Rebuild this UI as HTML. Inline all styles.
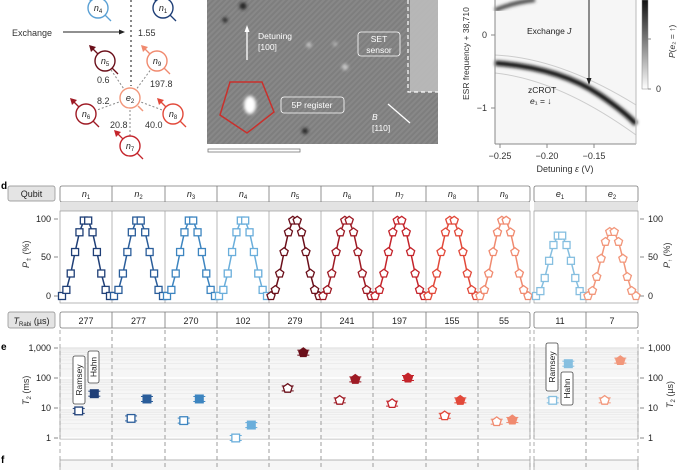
<!DOCTYPE html>
<html><head><meta charset="utf-8"><style>
body{margin:0;background:#fff;}
svg{display:block;font-family:"Liberation Sans",sans-serif;}
</style></head><body>
<svg id="s" width="685" height="470" viewBox="0 0 685 470" xmlns="http://www.w3.org/2000/svg">
<defs>
<pattern id="stripe" width="4" height="4" patternUnits="userSpaceOnUse" patternTransform="rotate(45)">
<rect width="4" height="4" fill="#7e7e7e"/><rect width="2" height="4" fill="#888"/>
</pattern>
<filter id="bl"><feGaussianBlur stdDeviation="1.5"/></filter>
</defs>
<!-- panel a -->
<line x1="131" y1="0" x2="131" y2="86" stroke="#888" stroke-width="2" stroke-dasharray="2,3"/>
<text x="12" y="36" font-size="9" fill="#333">Exchange</text>
<line x1="63" y1="32" x2="122" y2="32" stroke="#222" stroke-width="1"/>
<polygon points="125,32 119,29.5 119,34.5" fill="#222"/>
<text x="138" y="36" font-size="9" fill="#333">1.55</text>
<g stroke="#888" stroke-dasharray="2,2" stroke-width="1">
<line x1="130" y1="98" x2="105" y2="61"/><line x1="130" y1="98" x2="157" y2="61"/>
<line x1="130" y1="98" x2="86" y2="114"/><line x1="130" y1="98" x2="173" y2="114"/>
<line x1="130" y1="98" x2="130" y2="146"/></g>
<text x="97" y="83" font-size="9" fill="#333">0.6</text>
<text x="150" y="87" font-size="9" fill="#333">197.8</text>
<text x="97" y="104" font-size="9" fill="#333">8.2</text>
<text x="110" y="128" font-size="9" fill="#333">20.8</text>
<text x="145" y="128" font-size="9" fill="#333">40.0</text>
<g id="nodes"></g>
<!-- panel b -->
<rect x="207" y="0" width="231" height="144" fill="url(#stripe)"/>
<rect x="410" y="0" width="28" height="92" fill="#bdbdbd" opacity="0.9"/>
<path d="M408 0 V92 H438" fill="none" stroke="#fff" stroke-dasharray="4,3" stroke-width="1.2"/>
<g filter="url(#bl)" fill="#fff"><ellipse cx="250" cy="105" rx="6" ry="9"/><circle cx="309" cy="45" r="2.5" opacity=".6"/><circle cx="345" cy="67" r="3" opacity=".6"/><circle cx="335" cy="44" r="2" opacity=".5"/></g>
<g filter="url(#bl)" fill="#222"><circle cx="243" cy="6" r="3.5"/><circle cx="225" cy="20" r="2.5"/><circle cx="305" cy="131" r="3"/></g>
<polygon points="230,82 262,82 274,112 247,133 220,115" fill="none" stroke="#c9302c" stroke-width="1.5"/>
<line x1="247" y1="60" x2="247" y2="30" stroke="#fff" stroke-width="1.3"/><polygon points="247,25 244.5,32 249.5,32" fill="#fff"/>
<text x="258" y="39" font-size="8.5" fill="#fff">Detuning</text><text x="258" y="50" font-size="8.5" fill="#fff">[100]</text>
<rect x="358" y="32" width="42" height="24" rx="3" fill="none" stroke="#fff" stroke-width="0.8"/>
<text x="379" y="42" font-size="8.5" fill="#fff" text-anchor="middle">SET</text><text x="379" y="53" font-size="8.5" fill="#fff" text-anchor="middle">sensor</text>
<rect x="281" y="97" width="63" height="16" rx="3" fill="none" stroke="#fff" stroke-width="0.8"/>
<text x="312" y="108" font-size="8.5" fill="#fff" text-anchor="middle">5P register</text>
<line x1="410" y1="123" x2="388" y2="104" stroke="#fff" stroke-width="1.3"/>
<text x="372" y="120" font-size="8.5" fill="#fff" font-style="italic">B</text><text x="372" y="131" font-size="8.5" fill="#fff">[110]</text>
<rect x="208" y="149" width="92" height="3" fill="none" stroke="#777" stroke-width="0.8"/>
<!-- panel c -->
<rect x="495" y="0" width="141" height="144" fill="#f6f6f6"/>
<path d="M495 10 Q515 2 535 0" stroke="#444" stroke-width="4" fill="none" filter="url(#bl)"/>
<path d="M495 63 Q560 68 600 95 Q625 112 636 124" stroke="#111" stroke-width="5" fill="none" filter="url(#bl)"/>
<path d="M495 55 Q560 58 636 105" stroke="#ccc" stroke-width="1" fill="none"/>
<path d="M495 73 Q560 80 636 135" stroke="#ccc" stroke-width="1" fill="none"/>
<line x1="589" y1="0" x2="589" y2="80" stroke="#222"/><polygon points="589,85 586.5,78 591.5,78" fill="#222"/>
<text x="527" y="34" font-size="8.5" fill="#222">Exchange <tspan font-style="italic">J</tspan></text>
<text x="528" y="93" font-size="8.5" fill="#222">zCROT</text><text x="530" y="104" font-size="8.5" fill="#222"><tspan font-style="italic">e</tspan>₁ = ↓</text>
<line x1="495" y1="0" x2="495" y2="144" stroke="#888"/><line x1="495" y1="144" x2="636" y2="144" stroke="#888"/>
<line x1="636" y1="0" x2="636" y2="144" stroke="#bbb"/>
<g stroke="#888"><line x1="491" y1="35" x2="495" y2="35"/><line x1="491" y1="108" x2="495" y2="108"/><line x1="500" y1="144" x2="500" y2="148"/><line x1="547" y1="144" x2="547" y2="148"/><line x1="594" y1="144" x2="594" y2="148"/></g>
<text x="487" y="38" font-size="9" text-anchor="end" fill="#333">0</text><text x="487" y="111" font-size="9" text-anchor="end" fill="#333">−1</text>
<g font-size="9" fill="#333" text-anchor="middle"><text x="500" y="159">−0.25</text><text x="547" y="159">−0.20</text><text x="594" y="159">−0.15</text></g>
<text x="565" y="172" font-size="9" fill="#333" text-anchor="middle">Detuning <tspan font-style="italic">ε</tspan> (V)</text>
<text transform="translate(469,100) rotate(-90)" font-size="8.5" fill="#333">ESR frequency + 38,710</text>
<defs><linearGradient id="cb" x1="0" y1="0" x2="0" y2="1"><stop offset="0" stop-color="#111"/><stop offset="1" stop-color="#fff"/></linearGradient></defs>
<rect x="642" y="0" width="6" height="89" fill="url(#cb)" stroke="#888" stroke-width="0.5"/>
<line x1="648" y1="39" x2="651" y2="39" stroke="#888"/><line x1="648" y1="89" x2="651" y2="89" stroke="#888"/>
<text x="656" y="92" font-size="9" fill="#333">0</text>
<text transform="translate(675,58) rotate(-90)" font-size="8.5" fill="#333"><tspan font-style="italic">P</tspan>(<tspan font-style="italic">e</tspan>₂ = ↑)</text>
<!-- panel d/e -->
<text x="1" y="189" font-size="10" font-weight="bold">d</text>
<text x="1" y="350" font-size="10" font-weight="bold">e</text>
<text x="1" y="463" font-size="10" font-weight="bold">f</text>
<rect x="8" y="186" width="47" height="15" rx="2" fill="#e4e4e4" stroke="#888" stroke-width="0.7"/>
<text x="31.5" y="197" font-size="9" text-anchor="middle" fill="#222">Qubit</text>
<rect x="8" y="312" width="47" height="16" rx="2" fill="#e4e4e4" stroke="#888" stroke-width="0.7"/>
<text x="31.5" y="324" font-size="9" text-anchor="middle" fill="#222"><tspan font-style="italic">T</tspan><tspan font-size="6" dy="2">Rabi</tspan><tspan dy="-2"> (µs)</tspan></text>
<g id="g"></g>
</svg>
<script>
const NS="http://www.w3.org/2000/svg",g=document.getElementById('g'),nd=document.getElementById('nodes');
function el(t,a,p){const e=document.createElementNS(NS,t);for(const k in a)e.setAttribute(k,a[k]);(p||g).appendChild(e);return e;}
function tx(x,y,s,a,p){const e=el('text',Object.assign({x,y,'font-size':9,fill:'#222'},a||{}),p);e.innerHTML=s;return e;}
const nodes=[['n','4',98,8,'#5aa0d4'],['n','1',163,8,'#1f3f77'],['n','5',105,61,'#6b0f1a'],['n','9',157,61,'#f08a6f'],['e','2',130,98,'#f2977b'],['n','6',86,114,'#9e1a24'],['n','8',173,114,'#e2493a'],['n','7',130,146,'#c4242b']];
nodes.forEach(([l,i,x,y,c])=>{
 if(l=='n'){el('line',{x1:x-14,y1:y-14,x2:x+13,y2:y+13,stroke:c,'stroke-width':1.3},nd);el('polygon',{points:`${x-16},${y-16} ${x-9},${y-14} ${x-14},${y-9}`,fill:c},nd);}
 else{el('line',{x1:x+8,y1:y+8,x2:x+13,y2:y+13,stroke:c,'stroke-width':1.5},nd);}
 el('circle',{cx:x,cy:y,r:l=='n'?10:10,fill:'#fff',stroke:c,'stroke-width':1.4},nd);
 tx(x,y+3,`<tspan font-style="italic">${l}</tspan><tspan font-size="6" dy="2">${i}</tspan>`,{'text-anchor':'middle',fill:'#222'},nd);
});
const cols=[[60,112],[112,165],[165,217],[217,269],[269,321],[321,373],[373,426],[426,478],[478,530],[534,586],[586,638]];
const names=['n1','n2','n3','n4','n5','n6','n7','n8','n9','e1','e2'];
const colors=['#1f3f77','#2a5d9a','#3d85c0','#6aaedb','#6b0f1a','#9e1a24','#c4242b','#e2493a','#f08a6f','#86bfe0','#f2977b'];
const rabi=[277,277,270,102,279,241,197,155,55,11,7];
const R=[8,4.5,3.8,1,45,18,14,5.5,3.5,18,18],H=[30,20,20,2.7,700,90,100,18,4,300,380];
[[60,530],[534,638]].forEach(([a,b])=>{
 el('rect',{x:a,y:186,width:b-a,height:16,rx:2,fill:'#fff',stroke:'#777','stroke-width':0.8});
 el('rect',{x:a,y:202,width:b-a,height:9,fill:'#e3e3e3'});
 el('rect',{x:a,y:211,width:b-a,height:92,fill:'#fff',stroke:'#999','stroke-width':0.7});
 el('rect',{x:a,y:312,width:b-a,height:16,rx:2,fill:'#fff',stroke:'#777','stroke-width':0.8});
 el('rect',{x:a,y:348,width:b-a,height:91,fill:'#f6f6f6',stroke:'#999','stroke-width':0.7});
 el('rect',{x:a,y:460,width:b-a,height:12,fill:'#f6f6f6',stroke:'#999','stroke-width':0.7});
});
for(let d=0;d<3;d++)for(let m=1;m<=10;m++){const y=438-30*(d+Math.log10(m));
 [[60,530],[534,638]].forEach(([a,b])=>el('line',{x1:a,y1:y,x2:b,y2:y,stroke:m==10||m==1?'#fff':'#e6e6e6','stroke-width':m==1?1.5:0.6}));}
function marker(x,y,c,sq,fill,s){s=s||1;
 if(sq) el('rect',{x:x-3.5*s,y:y-3.5*s,width:7*s,height:7*s,fill:fill?c:'#fff',stroke:c,'stroke-width':1.3});
 else{let p=[];for(let k=0;k<5;k++){const a=-Math.PI/2+k*2*Math.PI/5;p.push((x+4.3*s*Math.cos(a)).toFixed(1)+','+(y+4.3*s*Math.sin(a)).toFixed(1));}
 el('polygon',{points:p.join(' '),fill:fill?c:'#fff',stroke:c,'stroke-width':1.3});}
}
cols.forEach(([a,b],i)=>{
 const c=colors[i],sq=[0,1,2,3,9].includes(i),mid=(a+b)/2;
 if(i!=8&&i!=10){el('line',{x1:b,y1:186,x2:b,y2:202,stroke:'#777','stroke-width':0.8});el('line',{x1:b,y1:211,x2:b,y2:303,stroke:'#999','stroke-width':0.7});el('line',{x1:b,y1:312,x2:b,y2:328,stroke:'#777','stroke-width':0.8});}
 const nm=names[i];
 tx(mid,197,`<tspan font-style="italic">${nm[0]}</tspan><tspan font-size="6" dy="2">${nm[1]}</tspan>`,{'text-anchor':'middle'});
 tx(mid,324,rabi[i],{'text-anchor':'middle'});
 const amp=i==9?80:(i==10?85:100);const N=12;let pts=[];
 for(let k=0;k<N;k++){const t=k/(N-1);const x=a+2+t*(b-a-4);const v=amp*(1-Math.cos(2*Math.PI*t))/2;pts.push([x,296-v*0.77]);}
 el('polyline',{points:pts.map(p=>p.join(',')).join(' '),fill:'none',stroke:c,'stroke-width':1.5});
 pts.forEach(p=>marker(p[0],p[1],c,sq,false));
 [a,b].forEach(x=>el('line',{x1:x,y1:330,x2:x,y2:470,stroke:'#999','stroke-dasharray':'4,3','stroke-width':0.8}));
 const yr=438-30*Math.log10(R[i]),yh=438-30*Math.log10(H[i]);
 const xr=a+(b-a)*0.36,xh=a+(b-a)*0.66;
 [[xr,yr,false],[xh,yh,true]].forEach(([x,y,f])=>{el('line',{x1:x-6,y1:y-2.5,x2:x+6,y2:y-2.5,stroke:c});el('line',{x1:x-6,y1:y+2.5,x2:x+6,y2:y+2.5,stroke:c});marker(x,y,c,sq,f,1.1);});
});
[[100,219],[50,257],[0,296]].forEach(([v,y])=>{el('line',{x1:54,y1:y,x2:58,y2:y,stroke:'#888'});tx(51,y+3,v,{'text-anchor':'end'});el('line',{x1:640,y1:y,x2:644,y2:y,stroke:'#888'});tx(648,y+3,v);});
el('text',{transform:'translate(29,268) rotate(-90)','font-size':9,fill:'#333'}).innerHTML='<tspan font-style="italic">P</tspan><tspan font-size="6" dy="2">⇑</tspan><tspan dy="-2"> (%)</tspan>';
el('text',{transform:'translate(670,268) rotate(-90)','font-size':9,fill:'#333'}).innerHTML='<tspan font-style="italic">P</tspan><tspan font-size="6" dy="2">↑</tspan><tspan dy="-2"> (%)</tspan>';
[['1,000',348],['100',378],['10',408],['1',438]].forEach(([v,y])=>{el('line',{x1:54,y1:y,x2:58,y2:y,stroke:'#888'});tx(51,y+3,v,{'text-anchor':'end'});el('line',{x1:640,y1:y,x2:644,y2:y,stroke:'#888'});tx(648,y+3,v);});
el('text',{transform:'translate(29,405) rotate(-90)','font-size':9,fill:'#333'}).innerHTML='<tspan font-style="italic">T</tspan><tspan font-size="6" dy="2">2</tspan><tspan dy="-2"> (ms)</tspan>';
el('text',{transform:'translate(673,408) rotate(-90)','font-size':9,fill:'#333'}).innerHTML='<tspan font-style="italic">T</tspan><tspan font-size="6" dy="2">2</tspan><tspan dy="-2"> (µs)</tspan>';
function vlab(x,y,w,h,s){el('rect',{x,y,width:w,height:h,rx:2,fill:'#fff',stroke:'#444','stroke-width':0.8});el('text',{transform:`translate(${x+w/2+3},${y+h/2}) rotate(-90)`,'font-size':8.5,'text-anchor':'middle',fill:'#222'}).innerHTML=s;}
vlab(73,356,12,48,'Ramsey');vlab(88,351,11,32,'Hahn');
vlab(546,343,12,48,'Ramsey');vlab(561,372,12,33,'Hahn');
</script>
</body></html>
